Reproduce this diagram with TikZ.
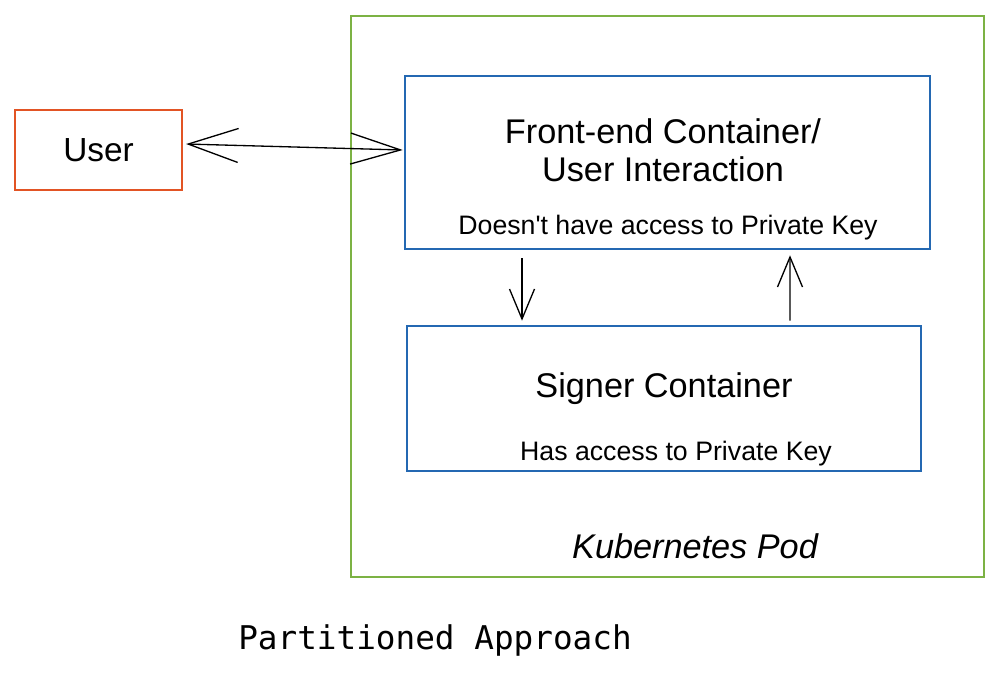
\documentclass[tikz,border=0pt]{standalone}
\usepackage{fontspec}
\setmainfont{Liberation Sans}
\newfontfamily\capfont{DejaVu Sans Mono}
\usetikzlibrary{arrows.meta,positioning}

\definecolor{userred}{RGB}{226,84,36}
\definecolor{podgreen}{RGB}{124,178,68}
\definecolor{ctblue}{RGB}{36,104,178}

\tikzset{
  userbox/.style={draw=userred,line width=1.3pt,minimum width=3.34cm,minimum height=1.6cm,font=\fontsize{19}{22}\selectfont},
  podbox/.style={draw=podgreen,line width=1.1pt,minimum width=12.66cm,minimum height=11.22cm},
  ctbox/.style={draw=ctblue,line width=1.5pt},
  titletext/.style={inner sep=0pt,align=center,font=\fontsize{19.5}{21.5}\selectfont},
  notetext/.style={inner sep=0pt,font=\fontsize{15.2}{18}\selectfont},
  podtext/.style={inner sep=0pt,font=\fontsize{19.5}{22}\selectfont\itshape},
  captext/.style={inner sep=0pt,font=\fontsize{18.6}{22}\selectfont\capfont},
}

\begin{document}
\begin{tikzpicture}[x=0.02cm,y=-0.02cm,line width=0.75pt]
  \useasboundingbox (0,0) rectangle (1000,674);
  % boxes
  \node[userbox] (user) at (98.5,150) {User};
  \node[podbox] (pod) at (667.5,296.5) {};
  \node[ctbox,minimum width=10.5cm,minimum height=3.46cm] (front) at (667.5,162.5) {};
  \node[ctbox,minimum width=10.28cm,minimum height=2.9cm] (signer) at (664,398.5) {};
  % texts
  \node[titletext] (fronttitle) at (663,150) {Front-end Container/\\User Interaction};
  \node[notetext] (frontnote) at (668,228) {Doesn\textquotesingle t have access to Private Key};
  \node[titletext] (signertitle) at (664,389) {Signer Container};
  \node[notetext] (signernote) at (676,454) {Has access to Private Key};
  \node[podtext] (podlabel) at (695,546) {Kubernetes Pod};
  \node[captext] (caption) at (435,640) {Partitioned Approach};
  % arrows
  \draw[{Straight Barb[length=1cm,width=0.68cm]}-{Straight Barb[length=1cm,width=0.62cm]}]
    ([shift={(3,-6)}]user.east) -- ([shift={(-1,-12.5)}]front.west);
  \draw[-{Straight Barb[length=0.6cm,width=0.5cm]}]
    ([shift={(-145.5,8)}]front.south) -- ([shift={(-142,-4)}]signer.north);
  \draw[-{Straight Barb[length=0.6cm,width=0.5cm]}]
    ([shift={(126,-4)}]signer.north) -- ([shift={(122.5,5)}]front.south);
\end{tikzpicture}
\end{document}
